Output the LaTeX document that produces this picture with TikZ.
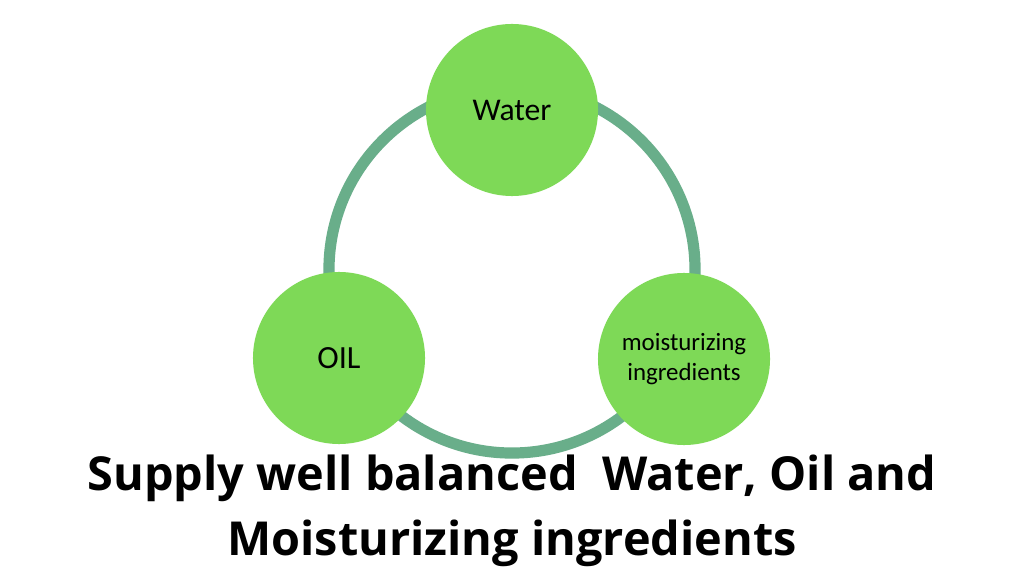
\documentclass[tikz,border=0pt]{standalone}
\usepackage{fontspec}
\setmainfont{Carlito}
\newfontfamily\titlefont{Open Sans}
\definecolor{leaf}{HTML}{7ED957}
\definecolor{ringgreen}{HTML}{69AE8A}
\tikzset{
  part/.style={circle, fill=leaf, minimum size=4.3cm, inner sep=0pt, align=center, text=black},
}
\begin{document}
\begin{tikzpicture}[x=0.025cm,y=-0.025cm]
% Lienzo
\useasboundingbox[fill=white] (0,0) rectangle (1024,576);

% Anillo
\draw [ringgreen, line width=0.28cm] (512,270) circle [radius=4.575cm];

% Circulos
\node [part, font=\fontsize{22.5}{26}\selectfont] (water) at (512,110) {Water};
\node [part, font=\fontsize{23}{26}\selectfont] (oil) at (339,358) {OIL};
\node [part, font=\fontsize{17.7}{21.5}\selectfont] (moist) at (684,359) {moisturizing\\ingredients};

% Titulo
\node [font=\titlefont\bfseries\fontsize{33.3}{46}\selectfont, align=center] (title) at (512,511)
  {Supply well balanced\ \ Water, Oil and\\Moisturizing ingredients};
\end{tikzpicture}
\end{document}
